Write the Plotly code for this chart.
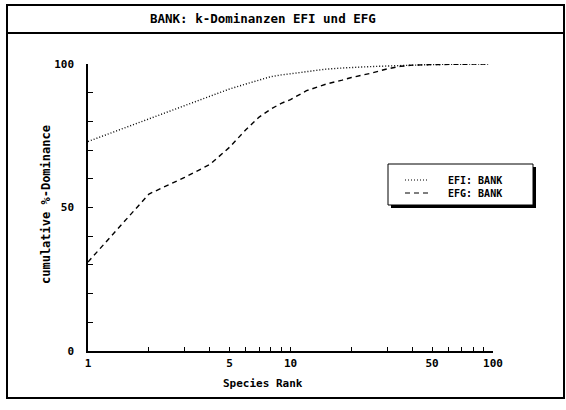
import plotly.graph_objects as go

# Data
ranks = [1, 2, 3, 4, 5, 6, 7, 8, 9, 10, 12, 15, 18, 20, 25, 30, 35, 40, 50, 60, 70, 80, 95]
efi = [73.0, 80.8, 85.5, 88.7, 91.3, 93.0, 94.5, 95.6, 96.2, 96.6, 97.4, 98.2, 98.6, 98.8,
       99.1, 99.3, 99.5, 99.6, 99.8, 99.9, 100.0, 100.0, 100.0]
efg = [31.0, 54.7, 60.5, 65.0, 71.0, 77.0, 81.5, 84.3, 86.3, 87.6, 90.7, 93.0, 94.4, 95.3,
       96.8, 98.3, 99.2, 99.6, 99.8, 99.9, 100.0, 100.0, 100.0]
series_names = ["EFI: BANK", "EFG: BANK"]
title_text = "BANK: k-Dominanzen EFI und EFG"
x_title = "Species Rank"
y_title = "cumulative %-Dominance"
x_tickvals = [1, 2, 3, 4, 5, 6, 7, 8, 9, 10, 20, 30, 40, 50, 60, 70, 80, 90, 100]
x_ticklabels = {1: "1", 5: "5", 10: "10", 50: "50", 100: "100"}
y_tickvals = [0, 10, 20, 30, 40, 50, 60, 70, 80, 90, 100]
y_ticklabels = {0: "0", 50: "50", 100: "100"}

W, H = 566, 410
L, R, T, B = 88, 73, 64, 59
PW, PH = W - L - R, H - T - B

def px(x):
    return (x - L) / PW

def py(y):
    return (H - B - y) / PH

FONT = "DejaVu Sans Mono"
fig = go.Figure()
fig.add_trace(go.Scatter(x=ranks, y=efi, mode="lines", name=series_names[0],
                         line=dict(color="black", width=1.4, dash="1px,2px"), showlegend=False))
fig.add_trace(go.Scatter(x=ranks, y=efg, mode="lines", name=series_names[1],
                         line=dict(color="black", width=1.4, dash="5px,4px"), showlegend=False))

fig.update_layout(
    width=W, height=H, margin=dict(l=L, r=R, t=T, b=B),
    paper_bgcolor="white", plot_bgcolor="white",
    font=dict(family=FONT, size=11, color="black", weight="bold"),
    xaxis=dict(type="log", range=[0, 2], showgrid=False, zeroline=False,
               showline=True, linecolor="black", linewidth=1.5,
               ticks="inside", ticklen=4, tickwidth=1, tickcolor="black",
               tickvals=x_tickvals,
               ticktext=[x_ticklabels.get(v, "") for v in x_tickvals],
               ticklabelstandoff=1),
    yaxis=dict(range=[0, 100], showgrid=False, zeroline=False,
               showline=True, linecolor="black", linewidth=1.5,
               ticks="inside", ticklen=5, tickwidth=1, tickcolor="black",
               tickvals=y_tickvals,
               ticktext=[y_ticklabels.get(v, "") for v in y_tickvals],
               ticklabelstandoff=10),
)

shapes = []
# outer frame and title bar
shapes.append(dict(type="rect", xref="paper", yref="paper", x0=px(7), x1=px(564), y0=py(5), y1=py(398),
                   line=dict(color="black", width=2)))
shapes.append(dict(type="line", xref="paper", yref="paper", x0=px(7), x1=px(564), y0=py(33), y1=py(33),
                   line=dict(color="black", width=2)))
# legend box with shadow
shapes.append(dict(type="rect", xref="paper", yref="paper", x0=px(391), x1=px(536), y0=py(167), y1=py(208),
                   line=dict(width=0), fillcolor="black"))
shapes.append(dict(type="rect", xref="paper", yref="paper", x0=px(388), x1=px(533), y0=py(164), y1=py(205),
                   line=dict(color="black", width=1), fillcolor="white"))
shapes.append(dict(type="line", xref="paper", yref="paper", x0=px(405), x1=px(428), y0=py(180), y1=py(180),
                   line=dict(color="black", width=1.2, dash="1px,2px")))
shapes.append(dict(type="line", xref="paper", yref="paper", x0=px(405), x1=px(428), y0=py(193), y1=py(193),
                   line=dict(color="black", width=1.2, dash="5px,4px")))
fig.update_layout(shapes=shapes)

ann = []
ann.append(dict(text=title_text, xref="paper", yref="paper", x=px(263), y=py(19),
                showarrow=False, font=dict(size=12.5), xanchor="center", yanchor="middle"))
ann.append(dict(text=x_title, xref="paper", yref="paper", x=px(263), y=py(383),
                showarrow=False, font=dict(size=11), xanchor="center", yanchor="middle"))
ann.append(dict(text=y_title, xref="paper", yref="paper", x=px(46), y=py(205), textangle=-90,
                showarrow=False, font=dict(size=12), xanchor="center", yanchor="middle"))
ann.append(dict(text=series_names[0] + "<br>" + series_names[1], xref="paper", yref="paper",
                x=px(446), y=py(186.5), align="left",
                showarrow=False, font=dict(size=10), xanchor="left", yanchor="middle"))
fig.update_layout(annotations=ann)

fig.write_html("out.html")
